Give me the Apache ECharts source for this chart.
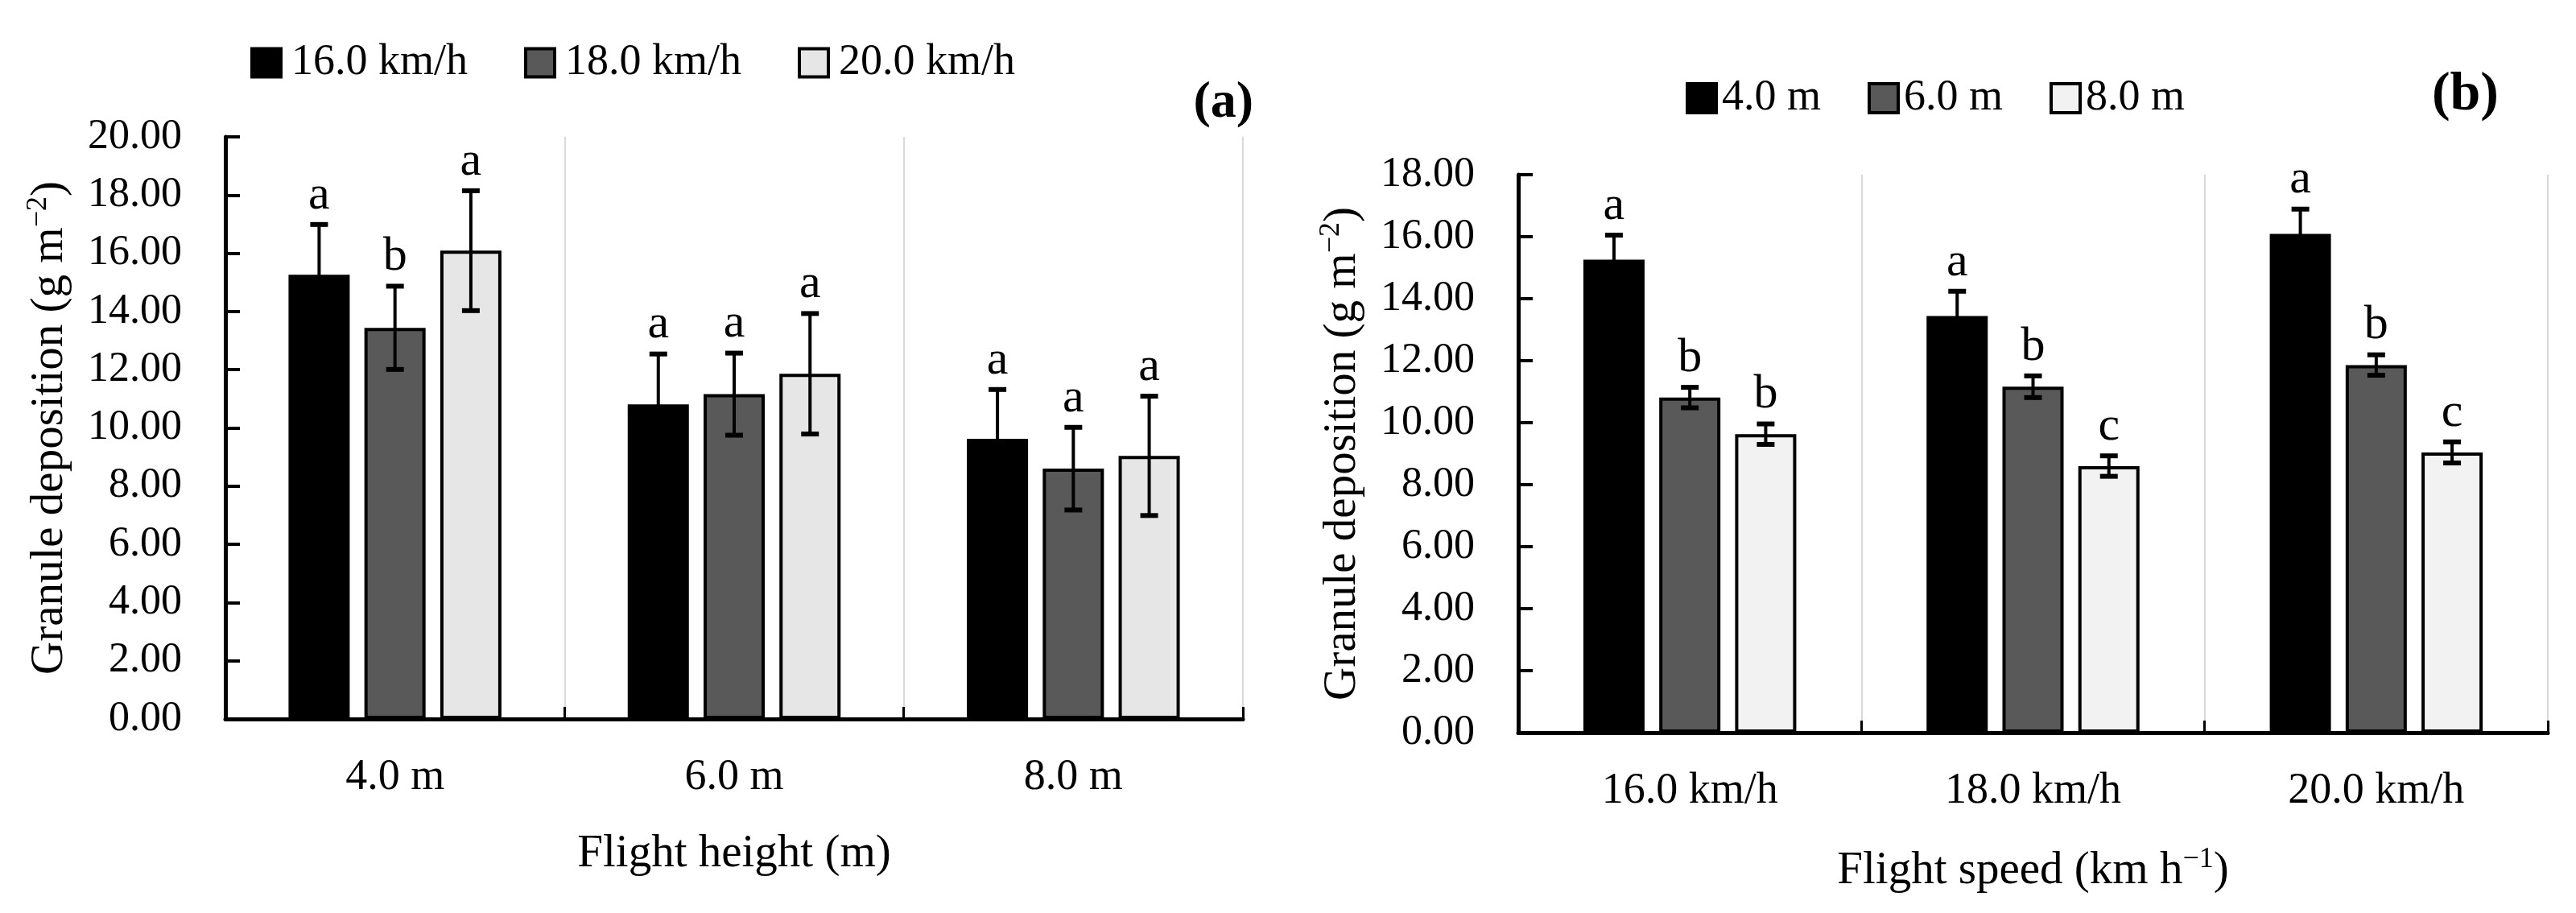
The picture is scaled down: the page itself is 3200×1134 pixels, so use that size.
<!DOCTYPE html>
<html>
<head>
<meta charset="utf-8">
<script src="https://cdn.jsdelivr.net/npm/echarts@6/dist/echarts.min.js"></script>
<style>
  html, body { margin: 0; padding: 0; background: #fff; }
  #chart { width: 3200px; height: 1134px; }
</style>
</head>
<body>
<div id="chart"></div>
<script>
// panel (a): flight height on x, one series per flight speed
const heightCats = ['4.0 m', '6.0 m', '8.0 m'];
const speedNames = ['16.0 km/h', '18.0 km/h', '20.0 km/h'];
const aSpeed16 = [15.26, 10.81, 9.63];
const aSpeed18 = [13.44, 11.16, 8.60];
const aSpeed20 = [16.09, 11.86, 9.04];
const aErr16 = [1.73, 1.73, 1.69];
const aErr18 = [1.43, 1.41, 1.42];
const aErr20 = [2.06, 2.07, 2.05];
const aLetters16 = ['a', 'a', 'a'];
const aLetters18 = ['b', 'a', 'a'];
const aLetters20 = ['a', 'a', 'a'];

// panel (b): flight speed on x, one series per flight height
const speedCats = ['16.0 km/h', '18.0 km/h', '20.0 km/h'];
const heightNames = ['4.0 m', '6.0 m', '8.0 m'];
const bHeight4 = [15.26, 13.44, 16.09];
const bHeight6 = [10.81, 11.16, 11.86];
const bHeight8 = [9.63, 8.60, 9.04];
const bErr4 = [0.79, 0.80, 0.80];
const bErr6 = [0.33, 0.35, 0.33];
const bErr8 = [0.33, 0.33, 0.34];
const bLetters4 = ['a', 'a', 'a'];
const bLetters6 = ['b', 'b', 'b'];
const bLetters8 = ['b', 'c', 'c'];

const aTicks = { min: 0, max: 20, interval: 2 };
const bTicks = { min: 0, max: 18, interval: 2 };

const FONT = 'Liberation Serif';
const fillColors = ['#000000', '#595959', '#e6e6e6'];
const fillColorsB = ['#000000', '#595959', '#f2f2f2'];
const BAR_W = 76;
const BAR_GAP = 0.24;
const barStep = BAR_W * (1 + BAR_GAP);

var chartDom = document.getElementById('chart');
var myChart = echarts.init(chartDom, null, { renderer: 'canvas' });

function xAxisFor(idx, cats, title, gap) {
  return {
    type: 'category',
    gridIndex: idx,
    data: cats,
    axisLine: { lineStyle: { color: '#000', width: 5 } },
    axisTick: { show: true, inside: true, length: 15, lineStyle: { color: '#000', width: 3 } },
    axisLabel: { color: '#000', fontFamily: FONT, fontSize: 54, margin: 46 },
    splitLine: { show: true, lineStyle: { color: '#d9d9d9', width: 2 } },
    name: title,
    nameLocation: 'middle',
    nameGap: gap,
    nameTextStyle: {
      color: '#000',
      fontFamily: FONT,
      rich: {
        t: { fontFamily: FONT, fontSize: 57, color: '#000', lineHeight: 64 },
        s: { fontFamily: FONT, fontSize: 36, color: '#000', lineHeight: 40, verticalAlign: 'top' }
      }
    }
  };
}

function yAxisFor(idx, ticks) {
  return {
    type: 'value',
    gridIndex: idx,
    min: ticks.min,
    max: ticks.max,
    interval: ticks.interval,
    axisLine: { show: true, lineStyle: { color: '#000', width: 5 } },
    axisTick: { show: true, inside: true, length: 18, lineStyle: { color: '#000', width: 4 } },
    axisLabel: {
      color: '#000', fontFamily: FONT, fontSize: 52, margin: 54,
      formatter: (v) => v.toFixed(2)
    },
    splitLine: { show: false },
    name: '{t|Granule deposition (g m}{s|−2}{t|)}',
    nameLocation: 'middle',
    nameRotate: 90,
    nameGap: 186,
    nameTextStyle: {
      color: '#000',
      fontFamily: FONT,
      rich: {
        t: { fontFamily: FONT, fontSize: 57, color: '#000', lineHeight: 64 },
        s: { fontFamily: FONT, fontSize: 36, color: '#000', lineHeight: 40, verticalAlign: 'top' }
      }
    }
  };
}

function barSeries(name, idx, values, color) {
  return {
    name: name,
    type: 'bar',
    xAxisIndex: idx,
    yAxisIndex: idx,
    data: values,
    barWidth: BAR_W,
    barGap: (BAR_GAP * 100) + '%',
    itemStyle: { color: color, borderColor: '#000', borderWidth: 4 },
    emphasis: { disabled: true },
    z: 2
  };
}

// error bar plus significance letter, placed over bar number `pos` of the group
function errSeries(idx, pos, values, errs, letters) {
  return {
    name: 'err' + idx + pos,
    type: 'custom',
    xAxisIndex: idx,
    yAxisIndex: idx,
    z: 5,
    silent: true,
    data: values.map((v, i) => [i, v, errs[i], letters[i]]),
    encode: { x: 0, y: 1 },
    renderItem: function (params, api) {
      const cat = api.value(0);
      const v = api.value(1);
      const e = api.value(2);
      const letter = letters[cat];
      const x = api.coord([cat, v])[0] + (pos - 1) * barStep;
      const top = api.coord([cat, v + e])[1];
      const bot = api.coord([cat, v - e])[1];
      const ls = { stroke: '#000', lineWidth: 4 };
      return {
        type: 'group',
        children: [
          { type: 'line', shape: { x1: x, y1: top, x2: x, y2: bot }, style: ls },
          { type: 'line', shape: { x1: x - 11, y1: top, x2: x + 11, y2: top }, style: { stroke: '#000', lineWidth: 6 } },
          { type: 'line', shape: { x1: x - 11, y1: bot, x2: x + 11, y2: bot }, style: { stroke: '#000', lineWidth: 6 } },
          {
            type: 'text',
            style: {
              text: letter, x: x, y: top - 6,
              align: 'center', verticalAlign: 'bottom',
              fontFamily: FONT, fontSize: 60, fill: '#000'
            }
          }
        ]
      };
    }
  };
}

var option = {
  backgroundColor: '#fff',
  animation: false,
  grid: [
    { left: 280, right: 1656, top: 170, bottom: 241 },
    { left: 1886, right: 35, top: 217, bottom: 224 }
  ],
  legend: [
    {
      data: speedNames,
      left: 306, top: 46,
      icon: 'rect', itemWidth: 36, itemHeight: 35, itemGap: 70,
      itemStyle: { borderColor: '#000', borderWidth: 4 },
      textStyle: { color: '#000', fontFamily: FONT, fontSize: 54, padding: [0, 0, 0, 8] },
      selectedMode: false
    },
    {
      data: heightNames,
      left: 2089, top: 90,
      icon: 'rect', itemWidth: 36, itemHeight: 36, itemGap: 58,
      itemStyle: { borderColor: '#000', borderWidth: 4 },
      textStyle: { color: '#000', fontFamily: FONT, fontSize: 54, padding: [0, 0, 0, 2] },
      selectedMode: false
    }
  ],
  graphic: [
    { type: 'text', right: 3200 - 1557, top: 96, style: { text: '(a)', fontFamily: FONT, fontSize: 64, fontWeight: 'bold', fill: '#000' } },
    { type: 'text', right: 3200 - 3104, top: 84, style: { text: '(b)', fontFamily: FONT, fontSize: 68, fontWeight: 'bold', fill: '#000' } }
  ],
  xAxis: [
    xAxisFor(0, heightCats, '{t|Flight height (m)}', 136),
    xAxisFor(1, speedCats, '{t|Flight speed (km h}{s|−1}{t|)}', 140)
  ],
  yAxis: [yAxisFor(0, aTicks), yAxisFor(1, bTicks)],
  series: [
    barSeries(speedNames[0], 0, aSpeed16, fillColors[0]),
    barSeries(speedNames[1], 0, aSpeed18, fillColors[1]),
    barSeries(speedNames[2], 0, aSpeed20, fillColors[2]),
    barSeries(heightNames[0], 1, bHeight4, fillColorsB[0]),
    barSeries(heightNames[1], 1, bHeight6, fillColorsB[1]),
    barSeries(heightNames[2], 1, bHeight8, fillColorsB[2]),
    errSeries(0, 0, aSpeed16, aErr16, aLetters16),
    errSeries(0, 1, aSpeed18, aErr18, aLetters18),
    errSeries(0, 2, aSpeed20, aErr20, aLetters20),
    errSeries(1, 0, bHeight4, bErr4, bLetters4),
    errSeries(1, 1, bHeight6, bErr6, bLetters6),
    errSeries(1, 2, bHeight8, bErr8, bLetters8)
  ]
};

option && myChart.setOption(option);
</script>
</body>
</html>
